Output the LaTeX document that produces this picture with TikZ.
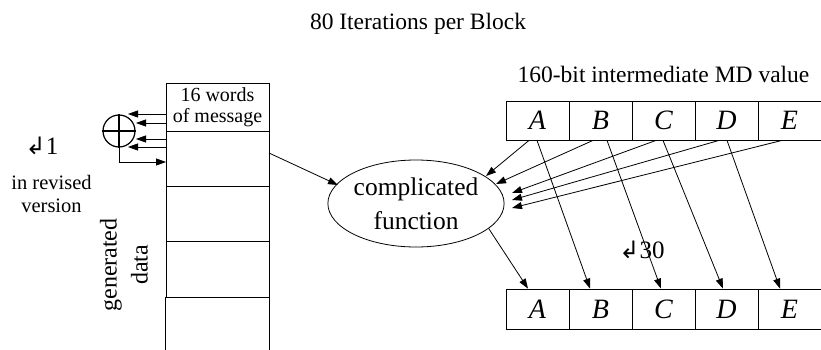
\documentclass[tikz,border=0pt]{standalone}
\usepackage{fontspec}
\setmainfont{Liberation Serif}
\newfontfamily\symfont{DejaVu Sans}
\usetikzlibrary{arrows.meta,shapes.geometric,calc}
\begin{document}
\begin{tikzpicture}[x=1pt,y=-1pt,
  line width=0.8pt,
  arr/.style={-{Triangle[length=10pt,width=7pt]}},
  cell/.style={draw,minimum width=63pt,inner sep=0pt,font=\fontsize{28}{30}\selectfont\itshape},
  row/.style={draw,minimum width=103pt,inner sep=0pt,align=center},
  lbl/.style={inner sep=0pt,align=center},
  rotsym/.style={font=\symfont\fontsize{24}{26}\selectfont}]
\useasboundingbox (0,0) rectangle (821,350);

% title
\node[lbl,font=\fontsize{23.5}{26}\selectfont] (title) at (418,24) {80 Iterations per Block};
\node[lbl,font=\fontsize{23.5}{26}\selectfont] (mdlbl) at (663.5,74) {160-bit intermediate MD value};

% left column
\node[row,minimum height=48pt,font=\fontsize{20}{21}\selectfont] (r0) at (217.5,107) {16 words\\of message};
\node[row,minimum height=55pt] (r1) at (217.5,158.5) {};
\node[row,minimum height=55pt] (r2) at (217.5,213.5) {};
\node[row,minimum height=56pt] (r3) at (217.5,269) {};
\node[minimum width=103pt,minimum height=53pt,inner sep=0pt] (r4) at (217.5,323.5) {};
\draw (r4.north west) -- (r4.south west) (r4.north east) -- (r4.south east);

% xor
\node[circle,draw,line width=1.2pt,minimum size=32pt,inner sep=0pt] (xor) at (119,131) {};
\draw[line width=1.2pt] (xor.north) -- (xor.south) (xor.west) -- (xor.east);
\coordinate (x1s) at (166,114); \coordinate (x1e) at (128,114);
\coordinate (x2s) at (166,123); \coordinate (x2e) at (136,123);
\coordinate (x3s) at (166,139); \coordinate (x3e) at (136,139);
\coordinate (x4s) at (166,147); \coordinate (x4e) at (128,147);
\draw[arr] (x1s) -- (x1e);
\draw[arr] (x2s) -- (x2e);
\draw[arr] (x3s) -- (x3e);
\draw[arr] (x4s) -- (x4e);
\coordinate (fb) at (166,162);
\draw[arr] (xor.south) |- (fb);

% left labels
\node[lbl,font=\fontsize{25}{26}\selectfont] (rot1) at (42,146) {{\symfont\fontsize{24}{26}\selectfont ↲}1};
\node[lbl,font=\fontsize{20.5}{23}\selectfont] (rev) at (51.5,194) {in revised\\version};
\node[lbl,font=\fontsize{24}{31}\selectfont,rotate=90] (gen) at (124,265) {generated\\data};

% function
\node[ellipse,draw,minimum width=174pt,minimum height=87pt,inner sep=0pt,align=center,
  font=\fontsize{25.5}{34}\selectfont] (f) at (416,203.5) {complicated\\function};
\coordinate (cs) at (269,153); \coordinate (ft) at (338,185);
\draw[arr] (cs) -- (ft);

% registers
\foreach \n/\l [count=\i from 0] in {A/A,B/B,C/C,D/D,E/E} {
  \node[cell,minimum height=39pt] (t\n) at (537.5+63*\i,120.5) {\l};
  \node[cell,minimum height=40pt] (b\n) at (537.5+63*\i,309) {\l};
}

% arrows into function
\coordinate (fA) at (486,176);
\coordinate (fB) at (496,184);
\coordinate (fC) at (512,193);
\coordinate (fD) at (512,200);
\coordinate (fE) at (512,208);
\draw[arr] ($(tA.south)+(-8.5,0)$) -- (fA);
\draw[arr] ($(tB.south)+(-7.5,0)$) -- (fB);
\draw[arr] ($(tC.south)+(-7.5,0)$) -- (fC);
\draw[arr] ($(tD.south)+(-7.5,0)$) -- (fD);
\draw[arr] ($(tE.south)+(-7.5,0)$) -- (fE);

% shifting arrows
\draw[arr] (f.-19) -- ($(bA.north)+(-9.5,0)$);
\draw[arr] ($(tA.south)+(-0.5,0)$) -- ($(bB.north)+(-10.5,0)$);
\draw[arr] ($(tB.south)+(6.5,0)$) -- ($(bC.north)+(-2.5,0)$);
\draw[arr] ($(tC.south)+(-0.5,0)$) -- ($(bD.north)+(-3.5,0)$);
\draw[arr] ($(tD.south)+(0.5,0)$) -- ($(bE.north)+(-9.5,0)$);

\node[lbl,font=\fontsize{25}{26}\selectfont] (rot30) at (642,250) {{\symfont\fontsize{24}{26}\selectfont ↲}30};
\end{tikzpicture}
\end{document}
